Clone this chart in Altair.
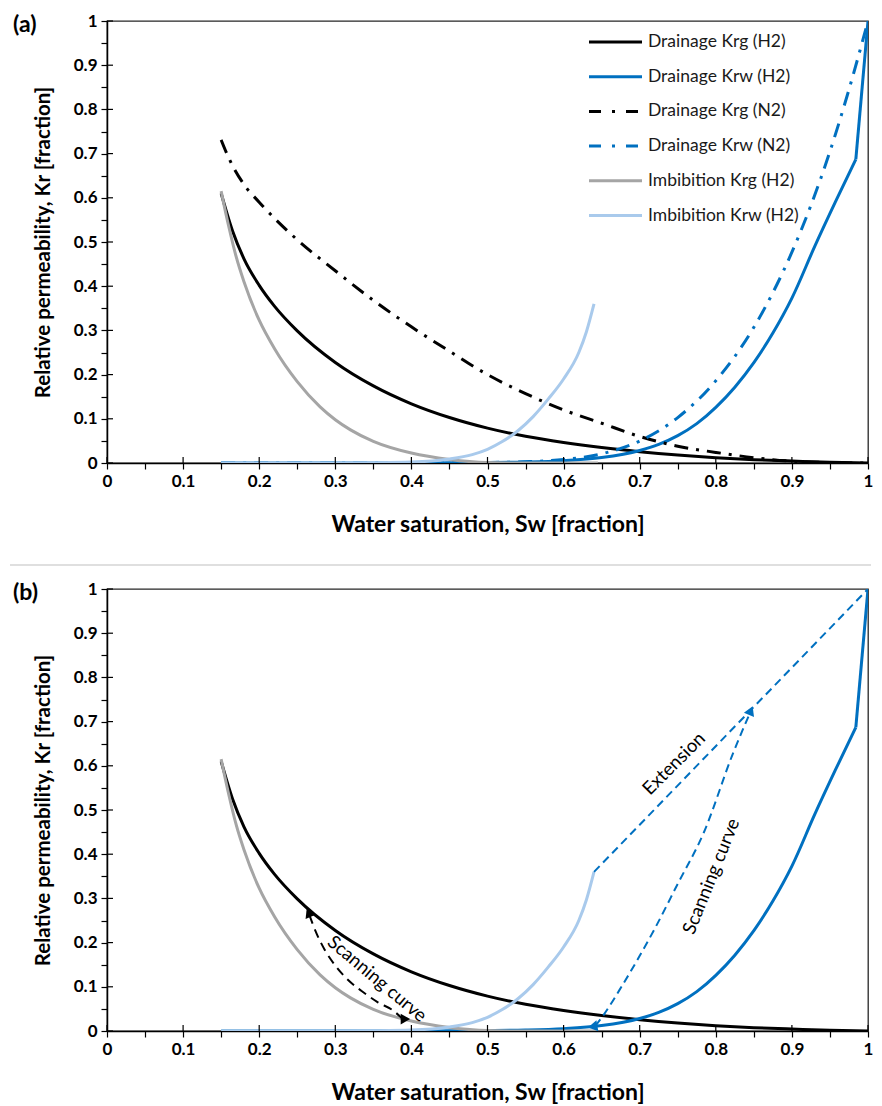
import altair as alt
import pandas as pd

# ------------------------------------------------------------------ data
# Drainage Krg (H2)
sw_dkg_h2 = [0.15, 0.165, 0.18, 0.2, 0.22, 0.25, 0.3, 0.35, 0.4, 0.45, 0.5,
             0.55, 0.6, 0.65, 0.7, 0.75, 0.8, 0.85, 0.9, 0.95, 1.0]
kr_dkg_h2 = [0.61, 0.525, 0.462, 0.402, 0.355, 0.299, 0.2275, 0.1745, 0.134, 0.103, 0.079,
             0.0604, 0.0464, 0.035, 0.0257, 0.0181, 0.0121, 0.0076, 0.0044, 0.0015, 0.0]
# Drainage Krw (H2)
sw_dkw_h2 = [0.15, 0.4, 0.45, 0.5, 0.55, 0.6, 0.65, 0.7, 0.725, 0.75, 0.775, 0.8, 0.825,
             0.85, 0.875, 0.9, 0.93, 0.957, 0.984, 1.0]
kr_dkw_h2 = [0.0, 0.0, 0.0004, 0.001, 0.0022, 0.0052, 0.0122, 0.0282, 0.0421, 0.0619,
             0.0891, 0.126, 0.1716, 0.227, 0.294, 0.373, 0.49, 0.59, 0.687, 1.0]
# Drainage Krg (N2)
sw_dkg_n2 = [0.15, 0.16, 0.18, 0.2, 0.25, 0.3, 0.35, 0.4, 0.45, 0.5, 0.55, 0.6, 0.65,
             0.7, 0.75, 0.8, 0.85, 0.9, 0.95, 1.0]
kr_dkg_n2 = [0.731, 0.69, 0.63, 0.59, 0.505, 0.435, 0.368, 0.308, 0.253, 0.20, 0.157, 0.12,
             0.09, 0.06, 0.038, 0.024, 0.012, 0.004, 0.001, 0.0]
# Drainage Krw (N2)
sw_dkw_n2 = [0.15, 0.4, 0.45, 0.5, 0.55, 0.6, 0.65, 0.7, 0.75, 0.8, 0.85, 0.9, 0.925,
             0.95, 0.975, 1.0]
kr_dkw_n2 = [0.0, 0.0, 0.0004, 0.0011, 0.0029, 0.0078, 0.0208, 0.0498, 0.1028, 0.186,
             0.307, 0.477, 0.583, 0.705, 0.845, 1.0]
# Imbibition Krg (H2)
sw_ikg_h2 = [0.15, 0.16, 0.17, 0.18, 0.2, 0.22, 0.25, 0.28, 0.3, 0.32, 0.35, 0.4, 0.45,
             0.5, 0.55, 0.645]
kr_ikg_h2 = [0.615, 0.535, 0.465, 0.41, 0.323, 0.259, 0.184, 0.127, 0.098, 0.075, 0.049,
             0.0225, 0.008, 0.001, 0.0, 0.0]
# Imbibition Krw (H2)
sw_ikw_h2 = [0.15, 0.3, 0.35, 0.4, 0.45, 0.48, 0.5, 0.52, 0.54, 0.56, 0.58, 0.6, 0.62,
             0.63, 0.64]
kr_ikw_h2 = [0.0, 0.0, 0.0005, 0.002, 0.009, 0.019, 0.031, 0.049, 0.073, 0.105, 0.145,
             0.19, 0.25, 0.297, 0.36]
# Panel (b) scanning curves / extension
sw_scan_gas = [0.388, 0.377, 0.355, 0.335, 0.3165, 0.3, 0.286, 0.275, 0.266]
kr_scan_gas = [0.028, 0.045, 0.066, 0.09, 0.116, 0.148, 0.184, 0.222, 0.262]
sw_scan_wat = [0.642, 0.654, 0.676, 0.7, 0.719, 0.75, 0.784, 0.823, 0.845]
kr_scan_wat = [0.012, 0.04, 0.10, 0.17, 0.229, 0.333, 0.448, 0.63, 0.72]
sw_ext = [0.64, 1.0]
kr_ext = [0.36, 1.0]

legend_labels = ["Drainage Krg (H2)", "Drainage Krw (H2)", "Drainage Krg (N2)",
                 "Drainage Krw (N2)", "Imbibition Krg (H2)", "Imbibition Krw (H2)"]

tick_values = [round(i * 0.05, 2) for i in range(21)]
major_ticks = [round(i * 0.1, 1) for i in range(11)]

# ------------------------------------------------------------------ styles
W, H = 761, 442
LEFT = 97
FONT = "Lato"
BLACK = "#000000"
BLUE = "#0070C0"
GREY = "#A5A5A5"
LBLUE = "#A9CAEC"
DASHDOT = [14, 8, 3, 8]
LW = 3

styles = {
    "Drainage Krg (H2)": dict(color=BLACK, dash=None),
    "Drainage Krw (H2)": dict(color=BLUE, dash=None),
    "Drainage Krg (N2)": dict(color=BLACK, dash=DASHDOT),
    "Drainage Krw (N2)": dict(color=BLUE, dash=DASHDOT),
    "Imbibition Krg (H2)": dict(color=GREY, dash=None),
    "Imbibition Krw (H2)": dict(color=LBLUE, dash=None),
}

label_expr = "round(datum.value*20) % 2 == 0 ? format(datum.value, '~g') : ''"


def xenc(field="sw"):
    return alt.X(f"{field}:Q", scale=alt.Scale(domain=[0, 1], nice=False, zero=False),
                 axis=alt.Axis(values=tick_values, labelExpr=label_expr,
                               title="Water saturation, Sw [fraction]"))


def yenc(field="kr"):
    return alt.Y(f"{field}:Q", scale=alt.Scale(domain=[0, 1], nice=False, zero=False),
                 axis=alt.Axis(values=tick_values, labelExpr=label_expr,
                               title="Relative permeability, Kr [fraction]"))


def curve(sw, kr, color, dash=None, width=LW, smooth=True):
    df = pd.DataFrame({"sw": sw, "kr": kr})
    kw = dict(color=color, strokeWidth=width, clip=True)
    if smooth:
        kw["interpolate"] = "monotone"
    if dash:
        kw["strokeDash"] = dash
    return alt.Chart(df).mark_line(**kw).encode(x=xenc(), y=yenc())


def krw_h2_layers():
    # smooth body up to the last measured kink, then a straight end segment
    return [curve(sw_dkw_h2[:-1], kr_dkw_h2[:-1], BLUE),
            curve(sw_dkw_h2[-2:], kr_dkw_h2[-2:], BLUE, smooth=False)]


def inner_ticks():
    xt = alt.Chart(pd.DataFrame({"sw": major_ticks})).mark_rule(
        color=BLACK, strokeWidth=1.2).encode(x=xenc(), y=alt.value(H - 6), y2=alt.value(H))
    yt = alt.Chart(pd.DataFrame({"kr": major_ticks})).mark_rule(
        color=BLACK, strokeWidth=1.2).encode(y=yenc(), x=alt.value(0), x2=alt.value(6))
    return [xt, yt]


def panel_label(txt):
    return alt.Chart(pd.DataFrame({"t": [txt]})).mark_text(
        align="left", baseline="middle", font=FONT, fontSize=23, fontWeight="bold",
        color=BLACK).encode(text="t:N", x=alt.value(-LEFT + 3), y=alt.value(4))


def text_at(sw, kr, txt, angle, color=BLACK):
    df = pd.DataFrame({"sw": [sw], "kr": [kr], "t": [txt]})
    return alt.Chart(df).mark_text(font=FONT, fontSize=18.5, angle=angle, color=color,
                                   align="center", baseline="middle").encode(
        x=xenc(), y=yenc(), text="t:N")


def arrow_head(sw, kr, angle, color):
    df = pd.DataFrame({"sw": [sw], "kr": [kr]})
    return alt.Chart(df).mark_point(shape="triangle-up", filled=True, size=120, angle=angle,
                                    color=color, opacity=1).encode(x=xenc(), y=yenc())


# ------------------------------------------------------------------ panel (a)
layers_a = [curve(sw_dkg_h2, kr_dkg_h2, BLACK)]
layers_a += krw_h2_layers()
layers_a += [
    curve(sw_dkg_n2, kr_dkg_n2, BLACK, DASHDOT),
    curve(sw_dkw_n2, kr_dkw_n2, BLUE, DASHDOT),
    curve(sw_ikg_h2, kr_ikg_h2, GREY),
    curve(sw_ikw_h2, kr_ikw_h2, LBLUE),
]

# legend (drawn inside the plot, top right)
leg_layers = []
lx0, lx1, ltx = round(W * 0.634), round(W * 0.703), round(W * 0.711)
for i, name in enumerate(legend_labels):
    yy = 21 + i * 34.7
    st = styles[name]
    kw = dict(color=st["color"], strokeWidth=LW)
    if st["dash"]:
        kw["strokeDash"] = [12, 11, 3, 11]
    leg_layers.append(
        alt.Chart(pd.DataFrame({"t": [name]})).mark_rule(**kw).encode(
            x=alt.value(lx0), x2=alt.value(lx1), y=alt.value(yy)))
    leg_layers.append(
        alt.Chart(pd.DataFrame({"t": [name]})).mark_text(
            align="left", baseline="middle", font=FONT, fontSize=17.5, color="#1a1a1a").encode(
            text="t:N", x=alt.value(ltx), y=alt.value(yy)))

panel_a = alt.layer(*layers_a, *inner_ticks(), *leg_layers, panel_label("(a)")).properties(
    width=W, height=H)

# ------------------------------------------------------------------ panel (b)
layers_b = [curve(sw_dkg_h2, kr_dkg_h2, BLACK)]
layers_b += krw_h2_layers()
layers_b += [
    curve(sw_ikg_h2, kr_ikg_h2, GREY),
    curve(sw_ikw_h2, kr_ikw_h2, LBLUE),
    curve(sw_scan_gas, kr_scan_gas, BLACK, [9, 6], 2),
    curve(sw_scan_wat, kr_scan_wat, BLUE, [8, 5], 2),
    curve(sw_ext, kr_ext, BLUE, [8, 5], 2, smooth=False),
    arrow_head(0.265, 0.268, 336, BLACK),
    arrow_head(0.389, 0.03, 330, BLACK),
    arrow_head(0.846, 0.725, 23, BLUE),
    arrow_head(0.641, 0.014, 20, BLUE),
    text_at(0.355, 0.118, "Scanning curve", 40),
    text_at(0.794, 0.35, "Scanning curve", 292),
    text_at(0.745, 0.605, "Extension", 315),
]
separator = alt.Chart(pd.DataFrame({"t": [0]})).mark_rule(
    color="#D4D4D4", strokeWidth=1.5).encode(
    x=alt.value(-LEFT), x2=alt.value(W + 3), y=alt.value(-24))

panel_b = alt.layer(*layers_b, *inner_ticks(), separator, panel_label("(b)")).properties(
    width=W, height=H)

# ------------------------------------------------------------------ assemble
chart = alt.vconcat(panel_a, panel_b, spacing=26).properties(
    padding={"left": 0, "top": 3, "right": 0, "bottom": 4}
).configure_view(
    stroke="#262626", strokeWidth=1.3
).configure_axis(
    grid=False, labelFont=FONT, labelFontSize=17, labelFontWeight="bold", labelColor=BLACK,
    titleFont=FONT, titleFontWeight="bold", titleColor=BLACK,
    tickColor=BLACK, tickSize=6, tickWidth=1.2, domainColor=BLACK, domainWidth=1.5,
    labelFlush=False, labelOverlap=False, labelPadding=4
).configure_axisX(
    titlePadding=24, titleFontSize=23
).configure_axisY(
    titlePadding=20, titleFontSize=20.5
)

chart.save("out.html", embed_options={"renderer": "svg", "actions": False})
